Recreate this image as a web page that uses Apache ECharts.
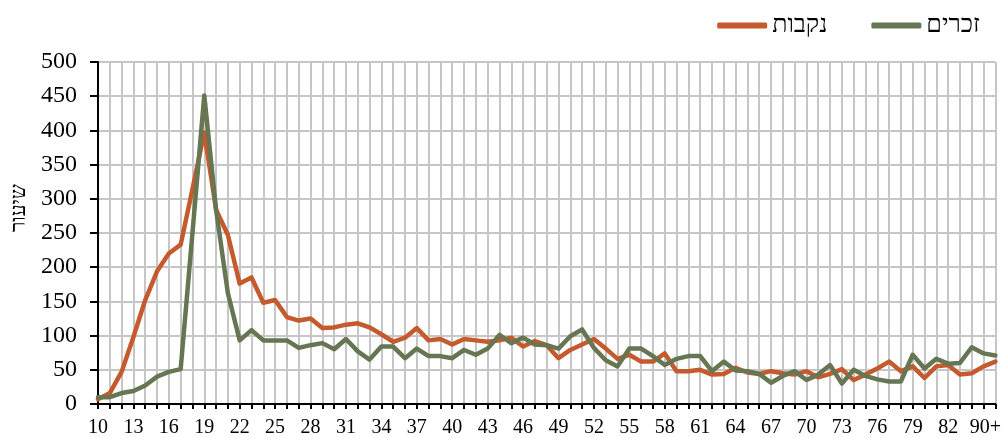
<!DOCTYPE html>
<html>
<head>
<meta charset="utf-8">
<script src="https://cdn.jsdelivr.net/npm/echarts@6/dist/echarts.min.js"></script>
<style>
html,body{margin:0;padding:0;background:#fff;}
#chart{width:1004px;height:438px;}
</style>
</head>
<body>
<div id="chart"></div>
<script>
const categories = ['10','11','12','13','14','15','16','17','18','19','20','21','22','23','24','25','26','27','28','29',
  '30','31','32','33','34','35','36','37','38','39','40','41','42','43','44','45','46','47','48','49',
  '50','51','52','53','54','55','56','57','58','59','60','61','62','63','64','65','66','67','68','69',
  '70','71','72','73','74','75','76','77','78','79','80','81','82','83','84','85','90+'];

const female = [7,16,47,98,152,194,220,233,314,397,284,247,176,185,148,152,127,122,125,111,
  112,116,118,112,102,91,97,111,93,95,87,95,93,91,93,97,84,92,86,67,
  79,87,95,81,66,72,62,62,74,48,48,50,43,44,53,46,44,48,45,43,
  48,39,44,51,35,43,52,62,48,55,38,55,57,43,45,55,62];

const male = [10,10,16,19,27,40,47,51,250,451,284,162,93,108,93,93,93,82,86,89,
  80,95,77,65,84,84,67,81,70,70,67,79,72,81,101,89,97,87,86,81,
  99,109,82,64,55,81,81,70,57,66,70,70,48,62,49,48,44,31,41,48,
  35,43,57,30,50,41,36,33,33,72,52,66,59,60,83,74,71];

const seriesNames = ['נקבות', 'זכרים'];
const seriesColors = ['#C45A2D', '#667652'];
const yAxisTitle = 'שיעור';

const serif = '"Liberation Serif", "Times New Roman", serif';
const chart = echarts.init(document.getElementById('chart'), null, {renderer: 'canvas'});

chart.setOption({
  animation: false,
  backgroundColor: '#ffffff',
  legend: {
    data: seriesNames,
    right: 19,
    top: 8,
    icon: 'roundRect',
    itemWidth: 50,
    itemHeight: 6,
    itemGap: 44,
    textStyle: {fontFamily: serif, fontSize: 25, color: '#000', width: 62}
  },
  grid: {left: 98, right: 7, top: 62, bottom: 34, containLabel: false},
  xAxis: {
    type: 'category',
    data: categories,
    boundaryGap: false,
    axisLine: {show: true, lineStyle: {color: '#000', width: 2}},
    axisTick: {show: true, interval: 0, length: 5, lineStyle: {color: '#000', width: 2}},
    axisLabel: {
      interval: function (idx) { return (idx % 3 === 0 && idx < 75) || idx === categories.length - 1; },
      formatter: function (v, idx) { return idx === categories.length - 1 ? '{last|' + v + '}' : v; },
      rich: {last: {fontFamily: serif, fontSize: 20, color: '#000', padding: [0, 20, 0, 0]}},
      margin: 14,
      fontFamily: serif,
      fontSize: 20,
      color: '#000'
    },
    splitLine: {show: true, interval: 0, lineStyle: {color: '#C6C6C6', width: 2}}
  },
  yAxis: {
    type: 'value',
    min: 0,
    max: 500,
    interval: 50,
    name: yAxisTitle,
    nameLocation: 'middle',
    nameRotate: 90,
    nameGap: 62,
    nameTextStyle: {fontFamily: serif, fontSize: 21, color: '#000', padding: [0, 0, 0, 50]},
    axisLine: {show: true, lineStyle: {color: '#000', width: 2}},
    axisTick: {show: true, length: 8, lineStyle: {color: '#000', width: 2}},
    axisLabel: {margin: 21, fontFamily: serif, fontSize: 24, color: '#000'},
    splitLine: {show: true, lineStyle: {color: '#C6C6C6', width: 2}}
  },
  series: [
    {
      name: seriesNames[0],
      type: 'line',
      data: female,
      symbol: 'none',
      color: seriesColors[0],
      lineStyle: {width: 4.5, color: seriesColors[0], cap: 'round', join: 'round'}
    },
    {
      name: seriesNames[1],
      type: 'line',
      data: male,
      symbol: 'none',
      color: seriesColors[1],
      lineStyle: {width: 4.5, color: seriesColors[1], cap: 'round', join: 'round'}
    }
  ]
});
</script>
</body>
</html>
